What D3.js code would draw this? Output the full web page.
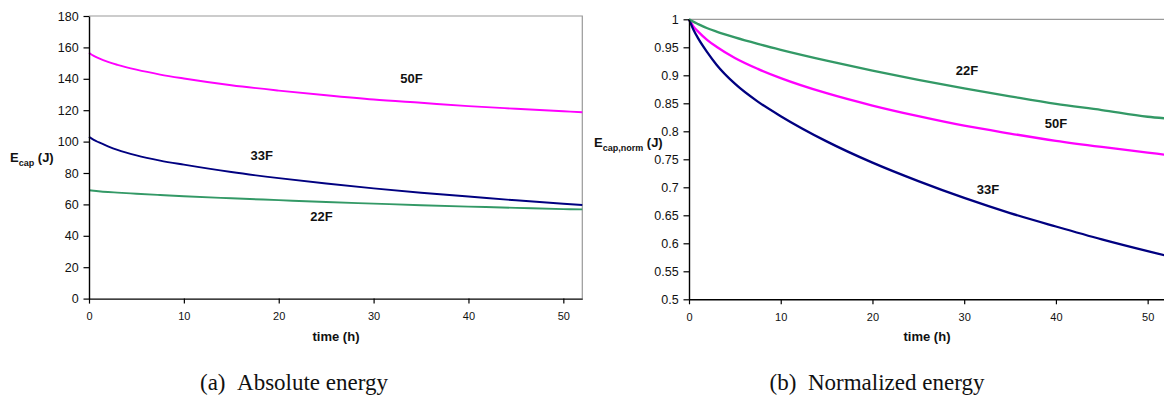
<!DOCTYPE html>
<html>
<head>
<meta charset="utf-8">
<script src="https://cdn.jsdelivr.net/npm/d3@7"></script>
<style>
  html, body { margin: 0; padding: 0; background: #fff; }
  svg { display: block; }
  .tick text { fill: #111; font-family: "Liberation Sans", Arial, sans-serif; }
</style>
</head>
<body>
<svg id="chart" width="1164" height="397"></svg>
<script>
// Sample times (hours) shared by every curve
const hours = [0, 0.5, 1, 2, 3, 5, 7.5, 10, 15, 20, 25, 30, 35, 40, 45, 50, 52];

// Stored capacitor energy (J)
const abs50F = [156.6, 154.6, 153.2, 150.8, 148.9, 145.8, 142.7, 140.2, 135.9, 132.5, 129.5, 126.8, 124.7, 122.6, 120.9, 119.3, 118.7];
const abs33F = [103.1, 101.1, 99.6, 97.0, 94.7, 91.2, 87.9, 85.3, 80.6, 76.7, 73.3, 70.2, 67.4, 65.0, 62.6, 60.4, 59.6];
const abs22F = [69.0, 68.7, 68.4, 67.9, 67.5, 66.8, 66.0, 65.2, 63.9, 62.7, 61.5, 60.5, 59.5, 58.6, 57.8, 57.0, 56.8];

// Energy normalized to its initial value
const norm50F = [1, 0.987, 0.978, 0.963, 0.951, 0.931, 0.9115, 0.895, 0.868, 0.846, 0.827, 0.810, 0.796, 0.783, 0.772, 0.762, 0.758];
const norm33F = [1, 0.981, 0.966, 0.941, 0.919, 0.885, 0.853, 0.827, 0.782, 0.744, 0.711, 0.681, 0.654, 0.630, 0.607, 0.586, 0.578];
const norm22F = [1, 0.9954, 0.9914, 0.984, 0.978, 0.9676, 0.9561, 0.9456, 0.9263, 0.9085, 0.892, 0.8767, 0.8625, 0.849, 0.838, 0.826, 0.823];

// Axis ticks
const timeTicks = [0, 10, 20, 30, 40, 50];
const absTicks = [0, 20, 40, 60, 80, 100, 120, 140, 160, 180];
const normTicks = [0.5, 0.55, 0.6, 0.65, 0.7, 0.75, 0.8, 0.85, 0.9, 0.95, 1];
const normTickLabels = ["0.5", "0.55", "0.6", "0.65", "0.7", "0.75", "0.8", "0.85", "0.9", "0.95", "1"];

// Series names and curve labels (label anchor given in data units: [time, value])
const seriesNames = ["50F", "33F", "22F"];
const absLabelAt = [[34, 140.5], [18.2, 91.0], [24.5, 52.1]];
const normLabelAt = [[40.0, 0.8136], [32.6, 0.6964], [30.3, 0.909]];

const colors = { "50F": "#ff00ff", "33F": "#000080", "22F": "#339966" };

const svg = d3.select("#chart");
svg.append("rect").attr("width", 1164).attr("height", 397).attr("fill", "#fff");

function drawPanel(cfg) {
  const x = d3.scaleLinear().domain([0, 52]).range([cfg.left, cfg.right]);
  const y = d3.scaleLinear().domain(cfg.yDomain).range([cfg.bottom, cfg.top]);
  const g = svg.append("g");

  // gray frame on top and right
  g.append("path")
    .attr("d", `M${cfg.left},${cfg.top}H${cfg.right}V${cfg.bottom}`)
    .attr("fill", "none").attr("stroke", "#9a9a9a").attr("stroke-width", 1.2);

  // curves
  const line = d3.line()
    .x((d, i) => x(hours[i]))
    .y(d => y(d))
    .curve(d3.curveMonotoneX);
  cfg.series.forEach((vals, k) => {
    g.append("path")
      .attr("d", line(vals))
      .attr("fill", "none")
      .attr("stroke", colors[seriesNames[k]])
      .attr("stroke-width", cfg.lineWidth);
  });

  // x axis
  const xAxis = g.append("g")
    .attr("transform", `translate(0,${cfg.bottom})`)
    .call(d3.axisBottom(x).tickValues(timeTicks).tickSize(5).tickSizeOuter(0).tickPadding(8.5));
  xAxis.selectAll(".tick text").attr("font-size", 11);

  // y axis
  const yAxis = g.append("g")
    .attr("transform", `translate(${cfg.left},0)`)
    .call(d3.axisLeft(y).tickValues(cfg.yTicks).tickSize(5.5).tickSizeOuter(0).tickPadding(4.8)
      .tickFormat(cfg.yFormat));
  yAxis.selectAll(".tick text").attr("font-size", 12.5);

  [xAxis, yAxis].forEach(a => {
    a.select(".domain").attr("stroke", "#000").attr("stroke-width", 1.4);
    a.selectAll(".tick line").attr("stroke", "#000").attr("stroke-width", 1.2);
    a.attr("font-family", null);
  });

  // curve labels
  cfg.labels.forEach((p, k) => {
    g.append("text")
      .attr("x", x(p[0])).attr("y", y(p[1]))
      .attr("dy", "0.36em")
      .attr("text-anchor", "middle")
      .attr("font-family", "'Liberation Sans', Arial, sans-serif")
      .attr("font-weight", "bold").attr("font-size", 13)
      .attr("fill", "#111")
      .text(seriesNames[k]);
  });

  // x title
  g.append("text")
    .attr("x", cfg.xTitleX).attr("y", 341)
    .attr("text-anchor", "middle")
    .attr("font-family", "'Liberation Sans', Arial, sans-serif")
    .attr("font-weight", "bold").attr("font-size", 13)
    .attr("fill", "#111")
    .text("time (h)");

  // y title with subscript
  const yt = g.append("text")
    .attr("x", cfg.yTitleX).attr("y", cfg.yTitleY)
    .attr("font-family", "'Liberation Sans', Arial, sans-serif")
    .attr("font-weight", "bold").attr("font-size", 13)
    .attr("fill", "#111");
  yt.append("tspan").text("E");
  yt.append("tspan").attr("font-size", 9).attr("dy", 4).text(cfg.yTitleSub);
  yt.append("tspan").attr("dy", -4).text(" (J)");

  // caption
  g.append("text")
    .attr("x", cfg.captionX).attr("y", 390)
    .attr("text-anchor", "middle")
    .attr("font-family", "'Liberation Serif', 'Times New Roman', serif")
    .attr("font-size", 23)
    .attr("fill", "#111")
    .text(cfg.caption);
}

drawPanel({
  left: 89, right: 582.3, top: 16, bottom: 298.6,
  yDomain: [0, 180], yTicks: absTicks, yFormat: d3.format("d"),
  series: [abs50F, abs33F, abs22F], labels: absLabelAt, lineWidth: 1.9,
  xTitleX: 336, yTitleX: 10, yTitleY: 161.5, yTitleSub: "cap",
  captionX: 294, caption: "(a)\u2002Absolute energy"
});

drawPanel({
  left: 689, right: 1166, top: 19.3, bottom: 299.3,
  yDomain: [0.5, 1], yTicks: normTicks, yFormat: (d, i) => normTickLabels[i],
  series: [norm50F, norm33F, norm22F], labels: normLabelAt, lineWidth: 2.3,
  xTitleX: 927, yTitleX: 594, yTitleY: 146.5, yTitleSub: "cap,norm",
  captionX: 877, caption: "(b)\u2002Normalized energy"
});
</script>
</body>
</html>
